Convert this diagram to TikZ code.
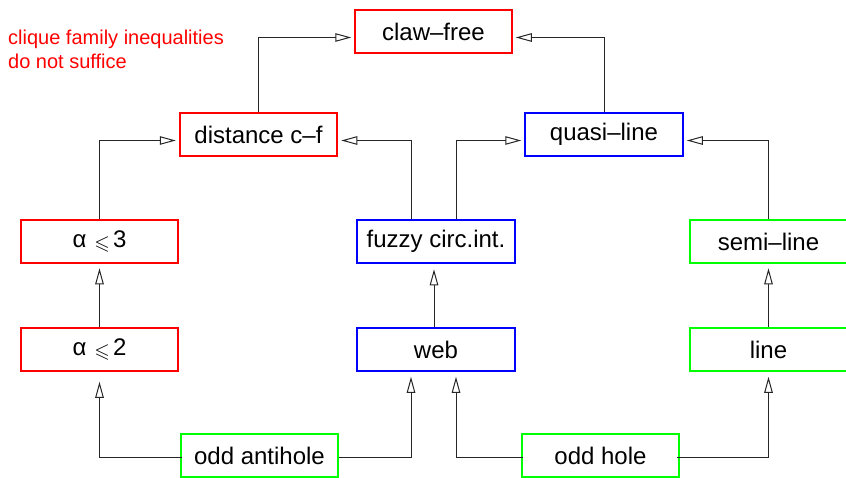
\documentclass[tikz,border=0pt]{standalone}
\usepackage{amssymb}
\usepackage{fontspec}
\setmainfont{Liberation Sans}
\usetikzlibrary{arrows.meta}

\definecolor{boxred}{RGB}{255,0,0}
\definecolor{boxblue}{RGB}{0,0,255}
\definecolor{boxgreen}{RGB}{0,255,0}

\tikzset{
  box/.style={draw, line width=2pt, minimum width=157.5pt, minimum height=43.5pt,
    inner sep=0pt, font=\fontsize{24}{28}\selectfont},
  redbox/.style={box, draw=boxred},
  bluebox/.style={box, draw=boxblue},
  greenbox/.style={box, draw=boxgreen},
  conn/.style={draw=black!85, line width=1pt,
    -{Triangle[open, length=16pt, width=8.5pt, line width=1pt]}},
  note/.style={anchor=base west, inner sep=0pt, text=boxred,
    font=\fontsize{20}{24}\selectfont}
}
\newcommand{\alphaleq}[1]{α\hspace{8pt}\raisebox{-2pt}{\fontsize{20}{20}\selectfont$\leqslant$}\hspace{3pt}#1}

\begin{document}
\begin{tikzpicture}[x=1pt, y=-1pt]
\useasboundingbox (0,0) rectangle (846,477);

% side note
\node[note] (note1) at (8,44.5) {clique family inequalities};
\node[note] (note2) at (8,68) {do not suffice};

% boxes
\node[redbox]   (claw)  at (433.5,31.5)  {claw--free};
\node[redbox]   (dist)  at (258.5,134.5) {distance c--f\hspace{8pt}};
\node[bluebox]  (quasi) at (604,134.5)   {quasi--line};
\node[redbox]   (a3)    at (99.5,241.5)  {\alphaleq{3}};
\node[bluebox]  (fuzzy) at (436,241.5)   {fuzzy circ.int.\hspace{8pt}};
\node[greenbox] (semi)  at (768.5,241.5) {semi--line\hspace{10pt}};
\node[redbox]   (a2)    at (99.5,349.5)  {\alphaleq{2}};
\node[bluebox]  (web)   at (436,349.5)   {web};
\node[greenbox] (line)  at (768.5,349.5) {line\hspace{12pt}};
\node[greenbox] (anti)  at (259.5,455.5) {odd antihole\hspace{8pt}};
\node[greenbox] (hole)  at (600.5,455.5) {\raisebox{-2pt}{odd hole}\hspace{12pt}};

% top level
\draw[conn, shorten >=2.5pt] (dist.north)  |- ([yshift=-6pt]claw.west);
\draw[conn, shorten >=2.5pt] (quasi.north) |- ([yshift=-6pt]claw.east);

% second level
\draw[conn, shorten >=3pt] (a3.north) |- ([yshift=-6pt]dist.west);
\draw[conn, shorten >=3pt] ([xshift=-25pt]fuzzy.north) |- ([yshift=-6pt]dist.east);
\draw[conn, shorten >=3pt] ([xshift=20pt]fuzzy.north) |- ([yshift=-6pt]quasi.west);
\draw[conn, shorten >=3pt] (semi.north) |- ([yshift=-6pt]quasi.east);

% vertical links
\draw[conn, shorten >=4pt] (a2.north) -- (a3.south);
\draw[conn, shorten >=5pt] ([xshift=-2pt]web.north) -- ([xshift=-2pt]fuzzy.south);
\draw[conn, shorten >=4pt] (line.north) -- (semi.south);

% bottom level
\draw[conn, shorten <=-2pt, shorten >=9.5pt] ([yshift=-1.5pt]anti.west) -| (a2.south);
\draw[conn, shorten >=4.5pt] ([yshift=-1.5pt]anti.east) -| ([xshift=-25pt]web.south);
\draw[conn, shorten <=-2pt, shorten >=4.5pt] ([yshift=-1.5pt]hole.west) -| ([xshift=20pt]web.south);
\draw[conn, shorten <=-3pt, shorten >=4.5pt] ([yshift=-1.5pt]hole.east) -| (line.south);
\end{tikzpicture}
\end{document}
